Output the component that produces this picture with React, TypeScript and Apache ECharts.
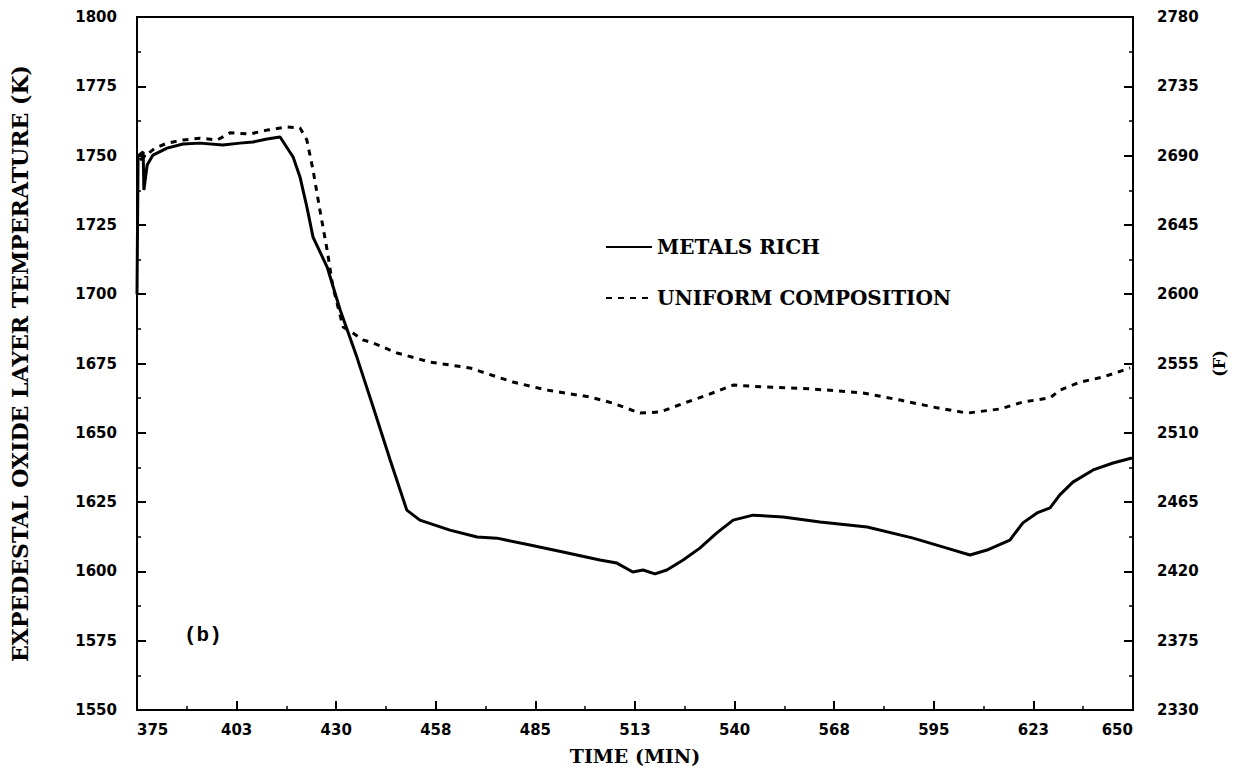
import React, { useEffect, useRef } from "react";
import * as echarts from "echarts";

// Time (min) and temperature (K)
const metalsRichTime = [375.0, 375.3, 376.7, 376.9, 377.8, 379.4, 383.3, 387.7, 392.4, 398.7, 403.4, 407.0, 410.9, 414.5, 418.1, 420.0, 421.9, 423.6, 427.5, 431.1, 435.7, 440.2, 444.9, 449.5, 453.1, 461.4, 468.9, 474.4, 483.5, 492.6, 502.8, 507.5, 511.9, 514.7, 518.0, 521.3, 525.8, 530.4, 535.1, 539.6, 545.1, 553.4, 563.6, 576.6, 589.3, 598.6, 605.0, 609.7, 616.0, 619.6, 623.5, 627.1, 629.8, 633.4, 639.0, 644.5, 649.7];
const metalsRichTemp = [1700.0, 1750.0, 1751.3, 1737.6, 1746.6, 1750.2, 1752.7, 1754.2, 1754.5, 1753.8, 1754.5, 1754.9, 1756.0, 1756.7, 1749.5, 1742.3, 1731.5, 1720.6, 1709.8, 1694.3, 1677.3, 1659.3, 1640.2, 1622.1, 1618.5, 1614.9, 1612.4, 1612.0, 1609.5, 1607.0, 1604.1, 1603.0, 1599.8, 1600.5, 1599.1, 1600.5, 1604.1, 1608.4, 1613.9, 1618.5, 1620.3, 1619.6, 1617.8, 1616.0, 1612.0, 1608.4, 1605.9, 1607.7, 1611.3, 1617.5, 1621.1, 1622.9, 1627.6, 1632.2, 1636.6, 1639.1, 1640.9];

const uniformTime = [375.8, 380.0, 383.3, 387.7, 392.4, 397.1, 400.7, 406.2, 410.9, 416.4, 420.0, 421.9, 423.6, 425.5, 427.5, 429.1, 431.9, 434.6, 437.4, 440.2, 446.8, 455.9, 466.9, 478.8, 488.2, 500.1, 506.4, 513.9, 519.4, 526.9, 532.4, 539.6, 548.9, 561.6, 575.4, 585.7, 594.8, 604.2, 613.3, 619.6, 627.1, 629.8, 635.4, 641.7, 649.2];
const uniformTemp = [1748.4, 1752.7, 1754.5, 1755.6, 1756.3, 1755.6, 1758.2, 1757.8, 1759.2, 1760.3, 1760.0, 1755.6, 1744.8, 1730.4, 1715.9, 1702.6, 1688.2, 1686.0, 1683.5, 1682.4, 1678.8, 1675.5, 1673.4, 1668.3, 1665.4, 1662.9, 1660.7, 1657.1, 1657.5, 1661.1, 1663.6, 1667.2, 1666.5, 1665.8, 1664.4, 1661.8, 1659.3, 1657.1, 1658.6, 1661.1, 1662.6, 1665.4, 1668.3, 1670.1, 1673.4];

const seriesNames = ["METALS RICH", "UNIFORM COMPOSITION"];
const xAxisRange = [375, 650];
const xTickStep = 27.5;
const kelvinRange = [1550, 1800];
const kelvinStep = 25;
const fahrenheitRange = [2330, 2780];
const fahrenheitStep = 45;

const labelFont = {
  color: "#000",
  fontFamily: "DejaVu Sans",
  fontWeight: "bold" as const,
  fontSize: 15,
};
const titleFont = {
  color: "#000",
  fontFamily: "DejaVu Serif",
  fontWeight: "bold" as const,
  fontSize: 18,
};

export default function App() {
  const ref = useRef<HTMLDivElement>(null);
  useEffect(() => {
    if (!ref.current) return;
    const chart = echarts.init(ref.current, null, { renderer: "svg" });
    const zip = (xs: number[], ys: number[]) => xs.map((x, i) => [x, ys[i]]);
    const tickCommon = {
      axisLine: { show: true, lineStyle: { color: "#000", width: 2 } },
      axisTick: { show: true, inside: true, length: 9, lineStyle: { color: "#000", width: 2 } },
      minorTick: { show: true, splitNumber: 2, length: 4, lineStyle: { color: "#000", width: 1.5 } },
      splitLine: { show: false },
      minorSplitLine: { show: false },
    };
    chart.setOption({
      animation: false,
      backgroundColor: "#fff",
      grid: {
        left: 137,
        right: 105,
        top: 17,
        bottom: 63,
        show: true,
        borderColor: "#000",
        borderWidth: 2,
        backgroundColor: "transparent",
      },
      legend: {
        orient: "vertical",
        left: 600,
        top: 232,
        itemWidth: 46,
        itemHeight: 14,
        itemGap: 31,
        data: seriesNames,
        itemStyle: { opacity: 0 },
        textStyle: { ...titleFont, fontSize: 20 },
        selectedMode: false,
      },
      xAxis: {
        type: "value",
        min: xAxisRange[0],
        max: xAxisRange[1],
        interval: xTickStep,
        name: "TIME (MIN)",
        nameLocation: "middle",
        nameGap: 36,
        nameTextStyle: { ...titleFont, fontSize: 19 },
        ...tickCommon,
        axisLabel: {
          ...labelFont,
          margin: 12,
          alignMinLabel: "left",
          alignMaxLabel: "right",
          formatter: (v: number) => String(Math.round(v)),
        },
      },
      yAxis: [
        {
          type: "value",
          min: kelvinRange[0],
          max: kelvinRange[1],
          interval: kelvinStep,
          position: "left",
          name: "EXPEDESTAL OXIDE LAYER TEMPERATURE (K)",
          nameLocation: "middle",
          nameRotate: 90,
          nameGap: 106,
          nameTextStyle: { ...titleFont, fontSize: 22 },
          ...tickCommon,
          axisLabel: { ...labelFont, margin: 20, formatter: (v: number) => String(v) },
        },
        {
          type: "value",
          min: fahrenheitRange[0],
          max: fahrenheitRange[1],
          interval: fahrenheitStep,
          position: "right",
          name: "(F)",
          nameLocation: "middle",
          nameRotate: 90,
          nameGap: 78,
          nameTextStyle: { ...titleFont, fontSize: 16 },
          ...tickCommon,
          axisLabel: { ...labelFont, margin: 24, formatter: (v: number) => String(v) },
        },
      ],
      graphic: [
        {
          type: "text",
          left: 184,
          top: 625,
          style: {
            text: "(b)",
            fill: "#000",
            font: "bold 21px 'Liberation Mono'",
          },
        },
      ],
      series: [
        {
          name: seriesNames[0],
          type: "line",
          yAxisIndex: 0,
          showSymbol: false,
          symbol: "none",
          data: zip(metalsRichTime, metalsRichTemp),
          lineStyle: { color: "#000", width: 3, type: "solid" },
          itemStyle: { color: "#000" },
        },
        {
          name: seriesNames[1],
          type: "line",
          yAxisIndex: 0,
          showSymbol: false,
          symbol: "none",
          data: zip(uniformTime, uniformTemp),
          lineStyle: { color: "#000", width: 3, type: [6, 6] },
          itemStyle: { color: "#000" },
        },
      ],
    });
    return () => chart.dispose();
  }, []);
  return (
    <div
      ref={ref}
      style={{ position: "fixed", left: 0, top: 0, width: 1238, height: 773, background: "#fff" }}
    />
  );
}
